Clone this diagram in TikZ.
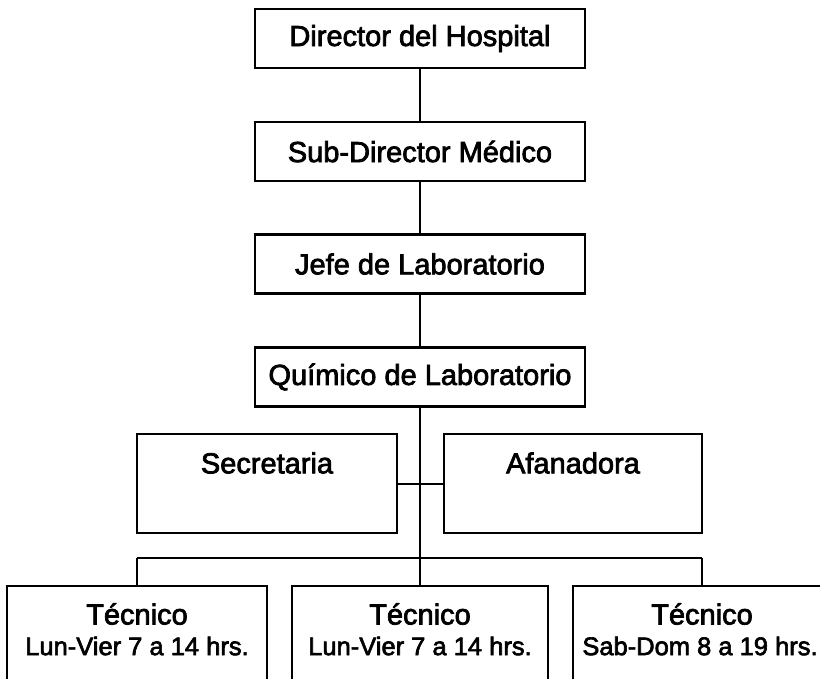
\documentclass[tikz,border=0pt]{standalone}
\usepackage{fontspec}
\setmainfont{Liberation Sans}
\newfontfamily\scanfont{Liberation Sans}[FakeBold=2.5]
\usetikzlibrary{calc}
\begin{document}
\begin{tikzpicture}[x=1pt,y=-1pt,
  line width=2.2pt,
  topbox/.style={draw, rectangle, minimum width=330pt, minimum height=59pt, inner sep=0pt,
     font=\scanfont\fontsize{29}{34}\selectfont},
  bigbox/.style={draw, rectangle, minimum height=99pt, inner sep=0pt, anchor=north},
  tecbox/.style={draw, rectangle, minimum height=130pt, inner sep=0pt, anchor=north},
  lbl/.style={inner sep=0pt, font=\scanfont\fontsize{29}{34}\selectfont},
  sublbl/.style={inner sep=0pt, font=\scanfont\fontsize{25.5}{30}\selectfont},
  conn/.style={draw, line width=2.2pt}]
\useasboundingbox (0,0) rectangle (820,678);
\clip (0,0) rectangle (820,678);
% top chain
\node[topbox] (dir) at (420,38.5) {Director del Hospital};
\node[topbox] (sub) at (420,151.5) {Sub-Director Médico};
\node[topbox] (jefe) at (420,264) {Jefe de Laboratorio};
\node[topbox] (quim) at (420,377) {Químico de Laboratorio};
% staff boxes
\node[bigbox, minimum width=260pt] (sec) at (267,433) {};
\node[bigbox, minimum width=258pt] (afa) at (573,433) {};
\node[lbl] (sect) at (267,463) {Secretaria};
\node[lbl] (afat) at (573,463) {Afanadora};
% technicians
\node[tecbox, minimum width=260pt] (t1) at (137,585) {};
\node[tecbox, minimum width=256pt] (t2) at (420,585) {};
\node[tecbox, minimum width=258pt] (t3) at (702,585) {};
\node[lbl] (t1a) at (137,614) {Técnico};
\node[lbl] (t2a) at (420,614) {Técnico};
\node[lbl] (t3a) at (702,614) {Técnico};
\node[sublbl] (t1b) at (137,646) {Lun-Vier 7 a 14 hrs.};
\node[sublbl] (t2b) at (420,646) {Lun-Vier 7 a 14 hrs.};
\node[sublbl] (t3b) at (700,646) {Sab-Dom 8 a 19 hrs.};
% connectors
\coordinate (busL) at (137,558);
\coordinate (busR) at (702,558);
\draw[conn] (dir.south) -- (sub.north);
\draw[conn] (sub.south) -- (jefe.north);
\draw[conn] (jefe.south) -- (quim.north);
\draw[conn] (quim.south) -- (t2.north);
\draw[conn] (sec.east) -- (afa.west);
\draw[conn] (busL) -- (busR);
\draw[conn] (busL) -- (t1.north);
\draw[conn] (busR) -- (t3.north);
\end{tikzpicture}
\end{document}
